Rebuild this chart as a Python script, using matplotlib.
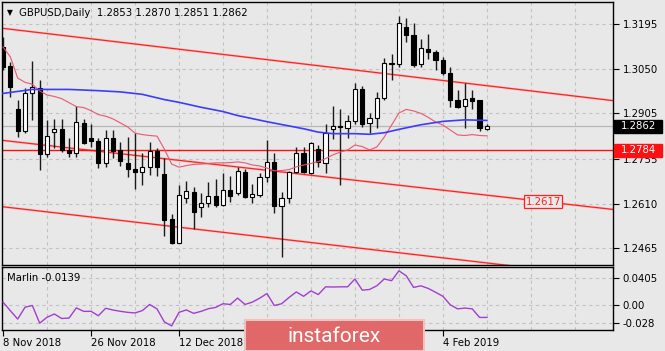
import matplotlib
matplotlib.use('Agg')
import matplotlib.pyplot as plt
import matplotlib.transforms as mtransforms
from matplotlib.patches import Rectangle, FancyBboxPatch
import numpy as np

# ---------------- data ----------------
opens = [1.3121, 1.3058, 1.2917, 1.2847, 1.2969, 1.2986, 1.2771, 1.2842, 1.2853, 1.2785,
         1.2774, 1.2874, 1.2825, 1.2815, 1.2744, 1.2823, 1.2785, 1.2744, 1.2722, 1.2714,
         1.2731, 1.2782, 1.2706, 1.2559, 1.2483, 1.2628, 1.2649, 1.2600, 1.2613, 1.2636,
         1.2606, 1.2655, 1.2644, 1.2714, 1.2633, 1.2638, 1.2696, 1.2747, 1.2603, 1.2628,
         1.2714, 1.2776, 1.2711, 1.2787, 1.2744, 1.2852, 1.2863, 1.2857, 1.2879, 1.2983,
         1.2874, 1.2890, 1.2953, 1.3067, 1.3064, 1.3186, 1.3159, 1.3064, 1.3113, 1.3105,
         1.3078, 1.3035, 1.2948, 1.2929, 1.2953, 1.2948, 1.2853]
highs = [1.3153, 1.3072, 1.2948, 1.2986, 1.3075, 1.3013, 1.2882, 1.2886, 1.2885, 1.2823,
         1.2928, 1.2885, 1.2869, 1.2823, 1.2850, 1.2850, 1.2812, 1.2826, 1.2839, 1.2774,
         1.2812, 1.2790, 1.2760, 1.2577, 1.2671, 1.2685, 1.2665, 1.2646, 1.2680, 1.2690,
         1.2709, 1.2700, 1.2731, 1.2722, 1.2674, 1.2709, 1.2817, 1.2774, 1.2649, 1.2716,
         1.2796, 1.2796, 1.2810, 1.2801, 1.2869, 1.2928, 1.2917, 1.2899, 1.3002, 1.2993,
         1.2904, 1.2975, 1.3083, 1.3096, 1.3221, 1.3214, 1.3199, 1.3145, 1.3162, 1.3110,
         1.3089, 1.3056, 1.2980, 1.3002, 1.2980, 1.2948, 1.2870]
lows = [1.3045, 1.2958, 1.2826, 1.2839, 1.2882, 1.2720, 1.2761, 1.2792, 1.2779, 1.2763,
        1.2763, 1.2804, 1.2796, 1.2725, 1.2731, 1.2758, 1.2733, 1.2698, 1.2657, 1.2671,
        1.2703, 1.2700, 1.2505, 1.2478, 1.2481, 1.2613, 1.2527, 1.2566, 1.2600, 1.2600,
        1.2603, 1.2617, 1.2638, 1.2628, 1.2613, 1.2633, 1.2682, 1.2581, 1.2438, 1.2613,
        1.2709, 1.2709, 1.2707, 1.2731, 1.2709, 1.2820, 1.2671, 1.2825, 1.2868, 1.2859,
        1.2841, 1.2855, 1.2948, 1.3013, 1.3056, 1.3137, 1.3056, 1.3056, 1.3080, 1.3045,
        1.3029, 1.2926, 1.2921, 1.2855, 1.2917, 1.2848, 1.2851]
closes = [1.3056, 1.2991, 1.2847, 1.2969, 1.2989, 1.2771, 1.2831, 1.2853, 1.2785, 1.2774,
          1.2877, 1.2809, 1.2814, 1.2742, 1.2823, 1.2783, 1.2750, 1.2722, 1.2712, 1.2731,
          1.2782, 1.2729, 1.2557, 1.2481, 1.2638, 1.2651, 1.2582, 1.2613, 1.2635, 1.2606,
          1.2655, 1.2635, 1.2717, 1.2631, 1.2641, 1.2696, 1.2747, 1.2603, 1.2628, 1.2714,
          1.2776, 1.2714, 1.2807, 1.2747, 1.2839, 1.2863, 1.2859, 1.2879, 1.2983, 1.2868,
          1.2888, 1.2953, 1.3067, 1.3064, 1.3197, 1.3159, 1.3062, 1.3116, 1.3105, 1.3078,
          1.3035, 1.2948, 1.2926, 1.2951, 1.2945, 1.2855, 1.2862]

fast_ma = [1.3120, 1.3088, 1.3019, 1.3005, 1.2999, 1.2977, 1.2964, 1.2959, 1.2952, 1.2939,
           1.2926, 1.2923, 1.2913, 1.2900, 1.2895, 1.2886, 1.2873, 1.2860, 1.2840, 1.2835,
           1.2832, 1.2830, 1.2788, 1.2739, 1.2729, 1.2734, 1.2738, 1.2739, 1.2741, 1.2743,
           1.2743, 1.2744, 1.2746, 1.2743, 1.2736, 1.2733, 1.2726, 1.2717, 1.2718, 1.2721,
           1.2730, 1.2736, 1.2741, 1.2747, 1.2757, 1.2769, 1.2778, 1.2785, 1.2801, 1.2796,
           1.2785, 1.2795, 1.2827, 1.2866, 1.2905, 1.2917, 1.2912, 1.2904, 1.2891, 1.2876,
           1.2866, 1.2850, 1.2834, 1.2832, 1.2835, 1.2832, 1.2831]

slow_ma_bars = [0, 4, 9, 13, 16, 19, 22, 24, 27, 30, 32, 36, 41, 43, 45, 48, 50, 52, 54,
                57, 60, 63, 66]
slow_ma = [1.2969, 1.2982, 1.2982, 1.2978, 1.2974, 1.2966, 1.2949, 1.2940, 1.2924, 1.2910,
           1.2897, 1.2877, 1.2854, 1.2843, 1.2838, 1.2838, 1.2836, 1.2841, 1.2852, 1.2867,
           1.2878, 1.2883, 1.2881]

marlin = [0.0040, -0.0090, -0.0217, -0.0037, -0.0011, -0.0279, -0.0190, -0.0140, -0.0208, -0.0202,
          -0.0047, -0.0100, -0.0099, -0.0166, -0.0053, -0.0080, -0.0099, -0.0115, -0.0124, -0.0088,
          0.0005, -0.0062, -0.0259, -0.0321, -0.0115, -0.0078, -0.0130, -0.0100, -0.0060, -0.0040,
          0.0016, 0.0005, 0.0102, 0.0005, 0.0040, 0.0100, 0.0171, -0.0011, 0.0016, 0.0110,
          0.0195, 0.0129, 0.0211, 0.0155, 0.0273, 0.0270, 0.0273, 0.0273, 0.0392, 0.0222,
          0.0233, 0.0290, 0.0392, 0.0366, 0.0516, 0.0440, 0.0264, 0.0288, 0.0248, 0.0190,
          0.0129, 0.0000, -0.0062, -0.0050, -0.0062, -0.0192, -0.0192]

channel_bars = [-1, 84]
channel_upper = [1.31836, 1.29433]
channel_middle = [1.28187, 1.25892]
channel_lower = [1.26028, 1.23673]

level_support = 1.2784
last_price = 1.2862
target_level = 1.2617
target_bar = 73.7

price_ticks = [1.3195, 1.3050, 1.2905, 1.2755, 1.2610, 1.2465]
marlin_ticks = [0.0405, 0.0, -0.028]
marlin_tick_labels = ['0.0405', '0.00', '-0.028']
date_tick_bars = [0, 12, 24, 60]
date_tick_labels = ['8 Nov 2018', '26 Nov 2018', '12 Dec 2018', '4 Feb 2019']
grid_bars = list(range(6, 84, 6))

title = 'GBPUSD,Daily  1.2853 1.2870 1.2851 1.2862'
indicator_title = 'Marlin -0.0139'

# ---------------- figure ----------------
W, H = 665, 351
BG = '#e8e8e8'
FS = 7.3
plt.rcParams['font.family'] = ['DejaVu Sans']

fig = plt.figure(figsize=(W / 100, H / 100), dpi=100, facecolor=BG)


def rect(x0, y0, x1, y1):
    return [x0 / W, 1 - y1 / H, (x1 - x0) / W, (y1 - y0) / H]


ax = fig.add_axes(rect(2, 2, 613, 265), facecolor=BG)
axm = fig.add_axes(rect(2, 267, 613, 330), facecolor=BG)

XL = (-0.14, 83.2)
ax.set_xlim(*XL)
axm.set_xlim(*XL)
ax.set_ylim(1.24105, 1.32666)
axm.set_ylim(-0.0383, 0.0574)

grid_kw = dict(color='#c2c2c2', lw=0.8, ls=(0, (3, 3)), zorder=0.5)
for g in grid_bars:
    ax.axvline(g, **grid_kw)
    axm.axvline(g, **grid_kw)
for p in price_ticks:
    ax.axhline(p, **grid_kw)
for v in marlin_ticks:
    axm.axhline(v, **grid_kw)

# horizontal levels
ax.axhline(last_price, color='#b8b8b8', lw=0.9, zorder=1)
ax.axhline(level_support, color='#ff1010', lw=1.0, zorder=2)

# channel lines
for ys in (channel_upper, channel_middle, channel_lower):
    ax.plot(channel_bars, ys, color='#ff9a9a', lw=1.8, alpha=0.45, zorder=1.5, solid_capstyle='butt')
    ax.plot(channel_bars, ys, color='#ff2222', lw=0.9, zorder=1.6)

# candles
bars = np.arange(len(closes))
o = np.array(opens)
c = np.array(closes)
up = c >= o
body_bottom = np.minimum(o, c)
body_h = np.maximum(np.abs(c - o), 0.0004)
ax.vlines(bars, lows, highs, color='#1a1a1a', lw=1.0, zorder=3)
ax.bar(bars, body_h, bottom=body_bottom, width=0.58,
       color=['white' if u else 'black' for u in up],
       edgecolor='black', linewidth=0.8, zorder=3.5)

# moving averages
ax.plot(bars, fast_ma, color='#e8506a', lw=0.85, alpha=0.9, zorder=4)
ax.plot(slow_ma_bars, slow_ma, color='#3c3cff', lw=1.2, zorder=4)

# target label
ax.text(target_bar, target_level, '1.2617', color='#ff2020', fontsize=FS,
        ha='center', va='center', zorder=6,
        bbox=dict(boxstyle='square,pad=0.12', fc=BG, ec='#ff2020', lw=0.9))

# axes styling
for a in (ax, axm):
    for s in a.spines.values():
        s.set_color('black')
        s.set_linewidth(1.0)
    a.yaxis.tick_right()

ax.set_yticks(price_ticks)
ax.set_yticklabels([f'{p:.4f}' for p in price_ticks])
ax.tick_params(axis='y', direction='out', length=4, width=0.8, pad=3, labelsize=FS, colors='black')
ax.tick_params(axis='x', length=0, labelbottom=False)

axm.set_yticks(marlin_ticks)
axm.set_yticklabels(marlin_tick_labels)
axm.tick_params(axis='y', direction='out', length=4, width=0.8, pad=3, labelsize=FS, colors='black')
axm.set_xticks(date_tick_bars)
axm.set_xticklabels(date_tick_labels)
axm.tick_params(axis='x', direction='out', length=4, width=0.8, pad=2, labelsize=FS, colors='black')
for lbl in axm.get_xticklabels():
    lbl.set_horizontalalignment('left')

# marlin line
axm.plot(bars, marlin, color='#a23ed0', lw=1.0, zorder=3)

# price boxes on the right axis
trans = mtransforms.blended_transform_factory(ax.transAxes, ax.transData)
box_w = 48 / 611
box_h = 12.5 * (1.32666 - 1.24105) / 263
for price, fc in ((last_price, 'black'), (level_support, '#ff1010')):
    ax.add_patch(Rectangle((1.002, price - box_h / 2), box_w, box_h, transform=trans,
                           facecolor=fc, edgecolor=fc, clip_on=False, zorder=10))
    ax.text(1.002 + box_w / 2, price, f'{price:.4f}', transform=trans, color='white',
            ha='center', va='center', fontsize=FS, zorder=11, clip_on=False)

# titles
fig.text(7 / W, 1 - 12.5 / H, '\u25bc', fontsize=5.5, va='center', ha='left', color='black')
fig.text(19 / W, 1 - 12.5 / H, title, fontsize=FS, va='center', ha='left', color='black')
fig.text(7 / W, 1 - 278 / H, indicator_title, fontsize=FS, va='center', ha='left', color='black')

# watermark
wm = FancyBboxPatch((245 / W, 0), 179 / W, 31 / H, boxstyle='square,pad=0',
                    transform=fig.transFigure, facecolor='#e06868', edgecolor='#f2c0c0',
                    lw=1.5, zorder=20)
fig.patches.append(wm)
fig.text(334.5 / W, 1 - 336 / H, 'instaforex', fontsize=15, color='white',
         family='Roboto', ha='center', va='center', zorder=21)

fig.savefig('out.png', dpi=100, facecolor=BG)
